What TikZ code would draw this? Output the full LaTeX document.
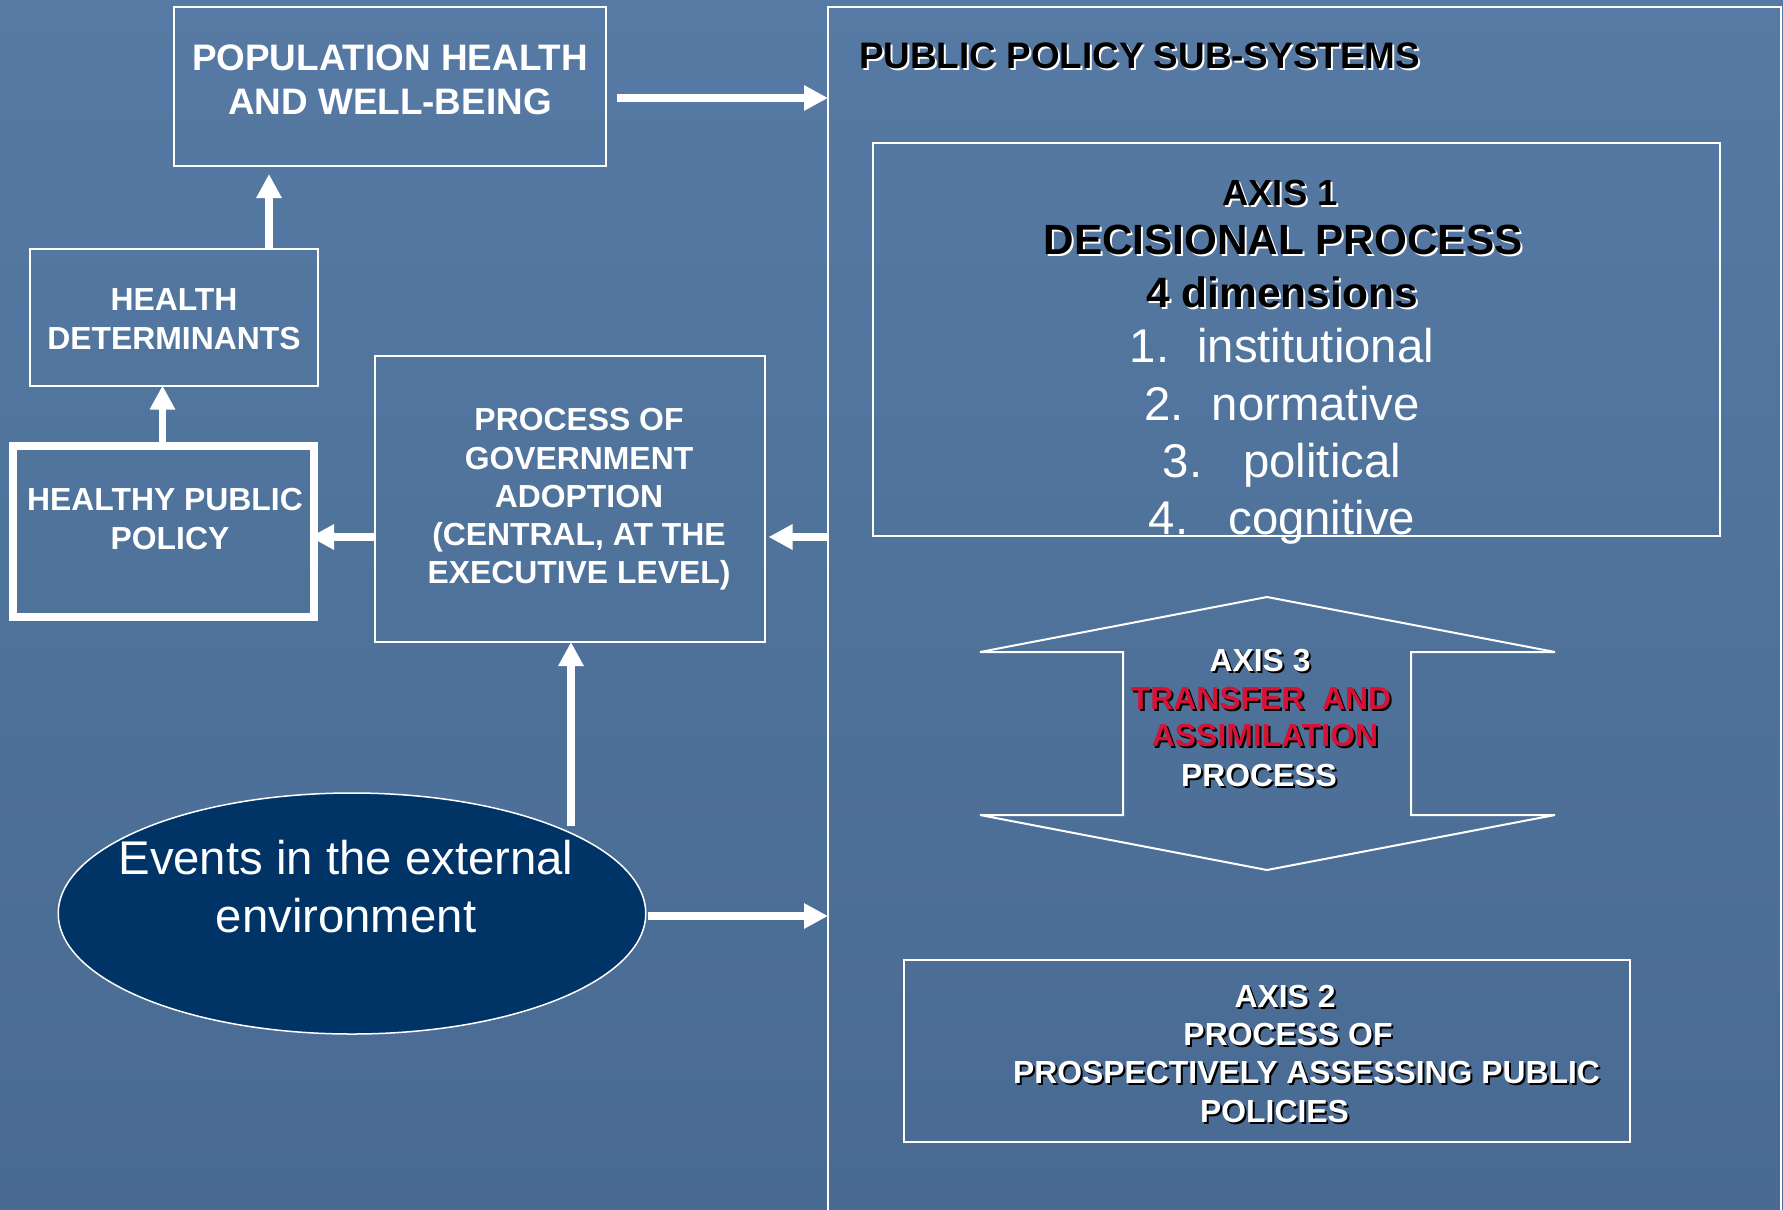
\documentclass[tikz,border=0pt]{standalone}
\usepackage{fontspec}
\setmainfont{Liberation Sans}
\usetikzlibrary{arrows.meta,calc,shapes.geometric}
\definecolor{bgtop}{RGB}{86,122,163}
\definecolor{bgbot}{RGB}{72,106,147}
\definecolor{navy}{RGB}{0,51,102}
\definecolor{axred}{RGB}{214,18,54}
\newcommand\shtxt[3]{\rlap{\hspace{2bp}\raisebox{-2bp}{\color{#2}#3}}{\color{#1}#3}}
\begin{document}
\begin{tikzpicture}[x=1bp,y=-1bp,
  box/.style={draw=white, line width=2bp, rectangle, inner sep=0pt, outer sep=0pt},
  arr/.style={draw=white, line width=7.5bp, -{Triangle[length=24bp,width=24bp]}},
  lbl/.style={inner sep=0pt, outer sep=0pt, anchor=base, text=white, font=\bfseries\fontsize{32}{38}\selectfont},
  big/.style={lbl, font=\bfseries\fontsize{37}{44}\selectfont},
  item/.style={lbl, font=\fontsize{47.5}{57}\selectfont},
]
\useasboundingbox (0,0) rectangle (1783,1209);
\shade[top color=bgtop, bottom color=bgbot] (0,0) rectangle (1783,1209);

% boxes
\node[box, minimum width=953bp, minimum height=1253bp] (pps) at (1304.5,633.5) {};
\node[box, minimum width=432bp, minimum height=159bp] (pop) at (390,86.5) {};
\node[box, minimum width=847bp, minimum height=393bp] (ax1) at (1296.5,339.5) {};
\node[box, minimum width=726bp, minimum height=181.5bp] (ax2) at (1267,1050.75) {};
\node[box, minimum width=287.5bp, minimum height=136.5bp] (hd) at (173.75,317.25) {};
\node[box, line width=8bp, minimum width=301bp, minimum height=171bp] (hpp) at (163.5,531.5) {};
\node[box, minimum width=390bp, minimum height=286bp] (proc) at (570,499) {};
\node[ellipse, draw=white, line width=1.5bp, fill=navy, minimum width=587.5bp, minimum height=241bp, inner sep=0pt, outer sep=0pt] (ell) at (352,913.5) {};

% axis 3 double arrow
\draw[white, line width=2bp] (1267,597) -- (1555,652) -- (1411,652) -- (1411,815) -- (1555,815) -- (1267,870) -- (980,815) -- (1123,815) -- (1123,652) -- (980,652) -- cycle;

% connectors
\coordinate (a1s) at ($(pop.east)+(11,11.5)$);
\draw[arr] (a1s) -- (a1s -| pps.west);
\coordinate (a2s) at ($(hd.north)+(95.25,0)$);
\draw[arr, shorten >=8bp] (a2s) -- (a2s |- pop.south);
\coordinate (a3s) at ($(hpp.north)+(-1,-4)$);
\draw[arr] (a3s) -- (a3s |- hd.south);
\coordinate (a4s) at ($(proc.west)+(0,38)$);
\draw[arr, shorten >=-4bp] (a4s) -- (a4s -| hpp.east);
\coordinate (a5s) at (a4s -| pps.west);
\draw[arr, shorten >=3.5bp] (a5s) -- (a5s -| proc.east);
\coordinate (a6s) at (571,826);
\draw[arr] (a6s) -- (a6s |- proc.south);
\coordinate (a7s) at ($(ell.east)+(2,2.5)$);
\draw[arr] (a7s) -- (a7s -| pps.west);

% texts
\node[big] (pop1) at (390,70.5) {POPULATION HEALTH};
\node[big] (pop2) at (390,114) {AND WELL-BEING};
\node[lbl] (hd1) at (174,310.5) {HEALTH};
\node[lbl] (hd2) at (174,349.5) {DETERMINANTS};
\node[lbl] (hpp1) at (165,510.5) {HEALTHY PUBLIC};
\node[lbl] (hpp2) at (170,549) {POLICY};
\node[lbl] (pr1) at (579,430.5) {PROCESS OF};
\node[lbl] (pr2) at (579,469) {GOVERNMENT};
\node[lbl] (pr3) at (579,507) {ADOPTION};
\node[lbl] (pr4) at (579,545.5) {(CENTRAL, AT THE};
\node[lbl] (pr5) at (579,583) {EXECUTIVE LEVEL)};
\node[item] (ev1) at (346,874) {Events in the external};
\node[item] (ev2) at (346,932) {environment};

\node[big, anchor=base west] (ttl) at (859,68) {\shtxt{black}{white}{PUBLIC POLICY SUB-SYSTEMS}};
\node[lbl, font=\bfseries\fontsize{36.5}{44}\selectfont] (x1a) at (1280,205) {\shtxt{black}{white}{AXIS 1}};
\node[lbl, font=\bfseries\fontsize{42.4}{50}\selectfont] (x1b) at (1283,254) {\shtxt{black}{white}{DECISIONAL PROCESS}};
\node[lbl, font=\bfseries\fontsize{42.6}{50}\selectfont] (x1c) at (1282,307) {\shtxt{black}{white}{4 dimensions}};
\node[item] (i1) at (1282,362.5) {1.\hspace{28bp}institutional};
\node[item] (i2) at (1282,420) {2.\hspace{28bp}normative};
\node[item] (i3) at (1282,477) {3.\hspace{41bp}political};
\node[item] (i4) at (1282,534) {4.\hspace{40bp}cognitive};

\node[lbl] (x3a) at (1260,671) {\shtxt{white}{black}{AXIS 3}};
\node[lbl] (x3b) at (1261,709) {\shtxt{axred}{black}{TRANSFER\ \ AND}};
\node[lbl] (x3c) at (1265,746) {\shtxt{axred}{black}{ASSIMILATION}};
\node[lbl] (x3d) at (1259,786) {\shtxt{white}{black}{PROCESS}};

\node[lbl] (x2a) at (1285,1007) {\shtxt{white}{black}{AXIS 2}};
\node[lbl] (x2b) at (1288,1045.5) {\shtxt{white}{black}{PROCESS OF}};
\node[lbl] (x2c) at (1306.5,1083.5) {\shtxt{white}{black}{PROSPECTIVELY ASSESSING PUBLIC}};
\node[lbl] (x2d) at (1274.5,1122.5) {\shtxt{white}{black}{POLICIES}};
\end{tikzpicture}
\end{document}
